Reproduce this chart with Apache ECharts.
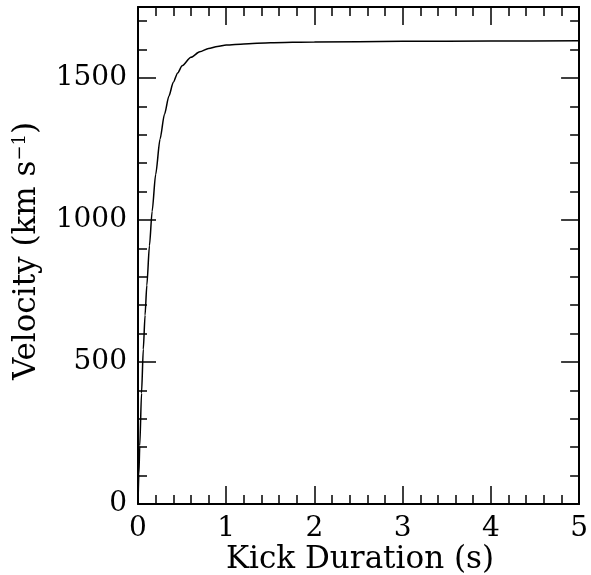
<!DOCTYPE html>
<html>
<head>
<meta charset="utf-8">
<script src="https://cdn.jsdelivr.net/npm/echarts@6/dist/echarts.min.js"></script>
<style>
html,body{margin:0;padding:0;background:#fff;}
#chart{width:591px;height:575px;}
</style>
</head>
<body>
<div id="chart"></div>
<script>
// Kick duration (s)
const durations = [0, 0.01, 0.02, 0.04, 0.06, 0.08, 0.1, 0.13, 0.16, 0.2, 0.25, 0.3, 0.35, 0.4, 0.45, 0.5, 0.6, 0.7, 0.8, 0.9, 1.0, 1.2, 1.5, 2.0, 3.0, 4.0, 5.0];
// Velocity (km/s)
const velocities = [0, 105, 205, 390, 545, 665, 770, 910, 1030, 1160, 1285, 1372, 1436, 1485, 1518, 1543, 1573, 1592, 1604, 1611, 1616, 1620, 1624, 1627, 1629, 1630, 1631];
const xTicks = [0, 1, 2, 3, 4, 5];
const yTicks = [0, 500, 1000, 1500];

const FONT = 'DejaVu Serif';
const chart = echarts.init(document.getElementById('chart'));
const lineStyle = {color: '#000', width: 2};
function xAx(pos, labels) {
  return {
    type: 'value', position: pos, min: 0, max: 5, interval: 1,
    axisLine: {show: true, onZero: false, lineStyle: lineStyle},
    axisTick: {show: true, inside: true, length: 18, lineStyle: {color: '#000', width: 1.5}},
    minorTick: {show: true, splitNumber: 5, length: 9, lineStyle: {color: '#000', width: 1.5}},
    axisLabel: {show: labels, margin: 11, fontFamily: FONT, fontSize: 28, color: '#000',
      formatter: v => xTicks.includes(v) ? String(v) : ''},
    splitLine: {show: false}, minorSplitLine: {show: false}
  };
}
function yAx(pos, interval, len, labels, line) {
  return {
    type: 'value', position: pos, min: 0, max: 1750, interval: interval,
    axisLine: {show: line, onZero: false, lineStyle: lineStyle},
    axisTick: {show: true, inside: true, length: len, lineStyle: {color: '#000', width: 1.5}},
    axisLabel: {show: labels, margin: 11, fontFamily: FONT, fontSize: 28, color: '#000',
      showMaxLabel: false,
      formatter: v => yTicks.includes(v) ? String(v) : ''},
    splitLine: {show: false}
  };
}
chart.setOption({
  animation: false,
  backgroundColor: '#fff',
  grid: {left: 138, right: 11, top: 7, bottom: 71, containLabel: false},
  xAxis: [xAx('bottom', true), xAx('top', false)],
  yAxis: [yAx('left', 500, 18, true, true), yAx('left', 100, 9, false, false),
          yAx('right', 500, 18, false, true), yAx('right', 100, 9, false, false)],
  series: [{
    type: 'line', xAxisIndex: 0, yAxisIndex: 0, showSymbol: false, symbol: 'none',
    smooth: 0.25, smoothMonotone: 'x',
    lineStyle: {color: '#000', width: 1.5},
    data: durations.map((d, i) => [d, velocities[i]])
  }],
  graphic: [
    {type: 'text', x: 360, y: 560, style: {text: 'Kick Duration (s)', fontFamily: FONT, fontSize: 31, fill: '#000', textAlign: 'center', textVerticalAlign: 'middle'}},
    {type: 'text', x: 27, y: 251, rotation: Math.PI / 2,
     style: {text: '{a|Velocity (km s}{s|\u22121}{a|)}', textAlign: 'center', textVerticalAlign: 'middle', fill: '#000',
       rich: {a: {fontFamily: FONT, fontSize: 31, fill: '#000', verticalAlign: 'bottom'},
              s: {fontFamily: FONT, fontSize: 18, fill: '#000', verticalAlign: 'top', padding: [0, 0, 12, 0]}}}}
  ]
});
</script>
</body>
</html>
